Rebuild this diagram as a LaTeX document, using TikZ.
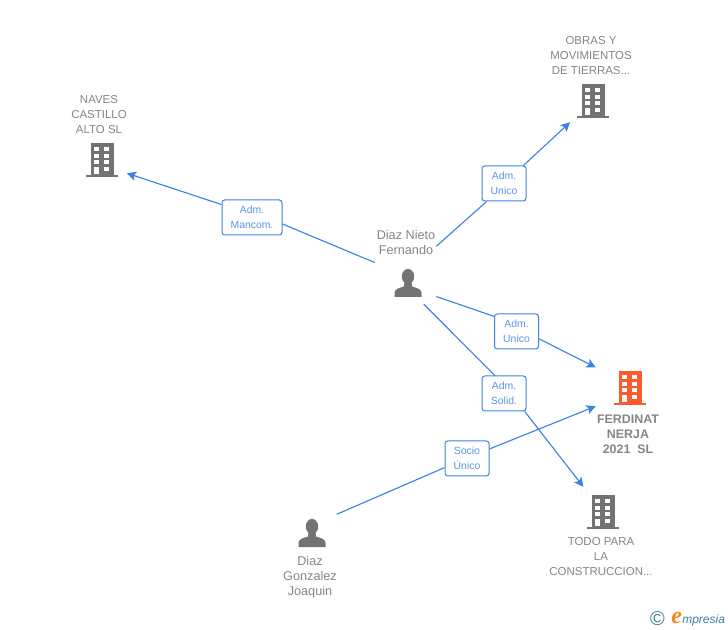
\documentclass[tikz,border=0pt]{standalone}
\usepackage{fontspec}
\setmainfont{Liberation Sans}
\newfontfamily\logofont{Liberation Serif}
\usetikzlibrary{arrows.meta}
\definecolor{linkblue}{HTML}{3C82E6}
\definecolor{namegray}{HTML}{858585}
\definecolor{icongray}{HTML}{737373}
\definecolor{iconorange}{HTML}{FF5A2D}
\definecolor{logoteal}{HTML}{3E7F9C}
\definecolor{logoorange}{HTML}{F28A1E}
\tikzset{
  wire/.style={linkblue,line width=0.85pt},
  wiretip/.style={wire,-{Stealth[length=7pt,width=7pt,inset=1.6pt]}},
  tag/.style={draw=linkblue,line width=0.75pt,fill=white,rounded corners=2pt,inner sep=0pt,
    minimum width=33pt,minimum height=26.25pt,align=center,text=linkblue!85,
    font=\fontsize{7.8}{11.25}\selectfont},
  label/.style={align=center,text=namegray,inner sep=0pt,font=\fontsize{8.6}{11.25}\selectfont},
  hub/.style={inner sep=0pt},
  building/.pic={
    \fill[pic actions] (-11.5,-34) rectangle (11.5,-2);
    \fill[pic actions] (-16,-2) rectangle (16,0);
    \foreach \wy in {-29.7,-23.3,-16.7}{
      \fill[white] (-7.7,\wy) rectangle (-3,\wy+4);
      \fill[white] (2,\wy) rectangle (7,\wy+4);
    }
    \fill[white] (-7.7,-10) rectangle (-3,-3);
    \fill[white] (2,-10) rectangle (7,-6);
  },
  person/.pic={
    \fill[icongray] (0,-20.5) ellipse (6.2 and 7.6);
    \fill[icongray] (-13.5,0) -- (-13.5,-4) .. controls (-13.5,-8) and (-9,-9) .. (-4,-10.5)
      -- (-3.5,-15) -- (3.5,-15) -- (4,-10.5) .. controls (9,-9) and (13.5,-8) .. (13.5,-4) -- (13.5,0) -- cycle;
  }
}
\begin{document}
\begin{tikzpicture}[x=0.75pt,y=-0.75pt]
   \useasboundingbox (0,0) rectangle (728,630);
   % companies
   \node[hub,circle,minimum size=46.5pt] (obras) at (593,101) {};
   \node[hub,circle,minimum size=39pt] (naves) at (102,165) {};
   \node[hub,minimum width=51pt,minimum height=45pt] (ferdinat) at (630,388) {};
   \node[hub,circle,minimum size=47.5pt] (todo) at (603,512) {};
   \pic[fill=icongray] at (593,118) {building};
   \pic[fill=icongray] at (102,177) {building};
   \pic[fill=iconorange] at (630,405) {building};
   \pic[fill=icongray] at (603,529) {building};
   % people
   \node[hub,minimum width=45.75pt,minimum height=43.5pt] (nieto) at (405.5,275) {};
   \node[hub,circle,minimum size=40pt] (joaquin) at (312,525) {};
   \pic at (408,297) {person};
   \pic at (312,547) {person};
   % texts
   \node[label] (obrastxt) at (591,56) {OBRAS Y\\MOVIMIENTOS\\DE TIERRAS...};
   \node[label] (navestxt) at (99,115) {NAVES\\CASTILLO\\ALTO SL};
   \node[label,font=\fontsize{9.3}{11.25}\selectfont\bfseries] (ferdinattxt) at (628,434) {FERDINAT\\NERJA\\2021\ \ SL};
   \node[label] (todotxt) at (601,557) {TODO PARA\\LA\\CONSTRUCCION...};
   \node[label,font=\fontsize{9.5}{11.25}\selectfont] (nietotxt) at (406,242.5) {Diaz Nieto\\Fernando};
   \node[label,font=\fontsize{9.5}{11.25}\selectfont] (joaquintxt) at (310,577) {Diaz\\Gonzalez\\Joaquin};
   % tags
   \node[tag,minimum width=45pt] (mancom) at (252,217.5) {Adm.\\Mancom.};
   \node[tag] (unicotop) at (504,183.5) {Adm.\\Unico};
   \node[tag] (unicolow) at (516.5,331.5) {Adm.\\Unico};
   \node[tag] (solid) at (504,393.5) {Adm.\\Solid.};
   \node[tag] (socio) at (467,458.5) {Socio\\Único};
   % links
   \draw[wire] (nieto.158.5) -- (mancom.-12);
   \draw[wiretip] (mancom.157.4) -- (naves);
   \draw[wire] (nieto.43.6) -- (unicotop.-134);
   \draw[wiretip] (unicotop) -- (obras);
   \draw[wire] (nieto.-35.8) -- (unicolow.146);
   \draw[wiretip] (unicolow.-18.4) -- (ferdinat.149.5);
   \draw[wire] (nieto.-58.9) -- (solid.117);
   \draw[wiretip] (solid.-41.9) -- (todo);
   \draw[wire] (joaquin) -- (socio.-158.9);
   \draw[wiretip] (socio.23.4) -- (ferdinat.-152.1);
   % logo
   \node[inner sep=0pt,text=logoteal,font=\fontsize{15}{15}\selectfont] (copyr) at (657.5,618.5) {©};
   \node[inner sep=0pt,anchor=base west,text=logoorange,font=\logofont\itshape\bfseries\fontsize{18}{18}\selectfont] (logoe) at (671,623.5) {e};
   \node[inner sep=0pt,anchor=base west,text=logoteal,font=\itshape\fontsize{9}{10}\selectfont] (logotxt) at (682,623) {mpresia};
  \end{tikzpicture}
\end{document}
